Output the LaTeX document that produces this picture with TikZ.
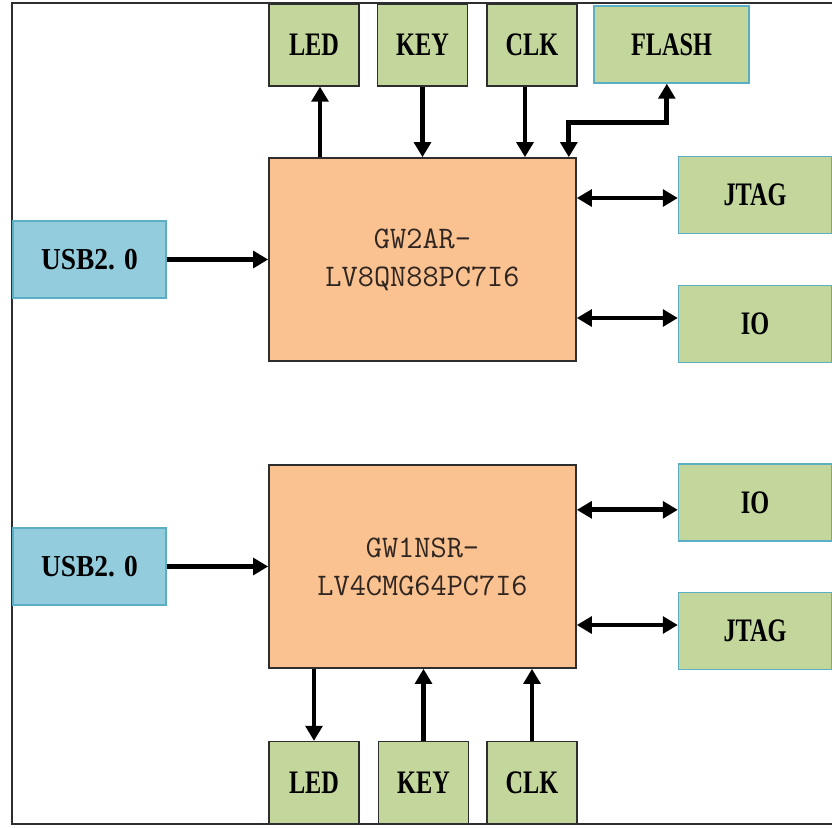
\documentclass[tikz,border=0pt]{standalone}
\usepackage{fontspec}
\usetikzlibrary{arrows.meta, positioning}
\newfontfamily\labelfont[FakeStretch=0.74]{Liberation Serif}
\newfontfamily\usbfont[FakeStretch=0.9]{Liberation Serif}
\definecolor{cgreen}{HTML}{C3D69B}
\definecolor{cpeach}{HTML}{FAC191}
\definecolor{cblue}{HTML}{93CDDD}
\definecolor{cteal}{HTML}{5BAFC4}
\definecolor{cdark}{HTML}{2E2E2E}
\definecolor{ctext}{HTML}{2F2621}
\tikzset{
  every picture/.style={line width=1.2pt},
  part/.style={draw=cdark, fill=cgreen, line width=1.4pt, inner sep=0pt,
    minimum width=2.7cm, minimum height=2.45cm,
    font=\labelfont\bfseries\fontsize{28}{30}\selectfont},
  port/.style={part, draw=cteal, minimum width=4.58cm, minimum height=2.3cm},
  usb/.style={port, fill=cblue, font=\usbfont\bfseries\fontsize{26}{28}\selectfont},
  chip/.style={draw=cdark, fill=cpeach, line width=1.4pt, align=center,
    minimum width=9.21cm, minimum height=6.09cm, text=ctext,
    font=\ttfamily\fontsize{26.8}{32.5}\selectfont},
  arrow/.style={-{Triangle[length=0.45cm, width=0.5cm]}, line width=4.2pt},
  biarrow/.style={arrow, {Triangle[length=0.45cm, width=0.5cm]}-{Triangle[length=0.45cm, width=0.5cm]}},
}

\begin{document}
\begin{tikzpicture}[x=0.03cm, y=-0.03cm]
  \useasboundingbox (0,0) rectangle (832,827);
  % outer frame
  \draw[cdark, line width=1.5pt] (12,3) rectangle (845,824);
  % first board
  \node[chip] (chipA) at (422.5,259.5) {GW2AR-\\LV8QN88PC7I6};
  \node[part] (ledA) at (314,45) {LED};
  \node[part] (keyA) at (422.5,45) {KEY};
  \node[part] (clkA) at (532,45) {CLK};
  \node[port, minimum width=4.65cm] (flash) at (671.5,44.5) {FLASH};
  \node[usb] (usbA) at (89.5,259.5) {USB2. 0};
  \node[port] (jtagA) at (755,195) {JTAG};
  \node[port] (ioA) at (755,324) {IO};
  \draw[arrow] ([xshift=0.18cm]chipA.north -| ledA.south) -- ([xshift=0.18cm]ledA.south);
  \draw[arrow] (keyA.south) -- (keyA.south |- chipA.north);
  \draw[arrow] ([xshift=-0.21cm]clkA.south) -- ([xshift=-0.21cm]clkA.south |- chipA.north);
  \draw[biarrow] ([xshift=-0.24cm]chipA.north east) |- ([xshift=-0.14cm, yshift=-1.17cm]flash.south)
    -- ([xshift=-0.14cm]flash.south);
  \draw[arrow] (usbA.east) -- (chipA.west);
  \draw[biarrow] ([yshift=-0.09cm]chipA.east |- jtagA.west) -- ([yshift=-0.09cm]jtagA.west);
  \draw[biarrow] ([yshift=0.18cm]chipA.east |- ioA.west) -- ([yshift=0.18cm]ioA.west);
  % second board
  \node[chip] (chipB) at (422.5,566.5) {GW1NSR-\\LV4CMG64PC7I6};
  \node[usb] (usbB) at (89.5,566.5) {USB2. 0};
  \node[port] (ioB) at (755,502.5) {IO};
  \node[port] (jtagB) at (755,631) {JTAG};
  \node[part] (ledB) at (314,782.5) {LED};
  \node[part] (keyB) at (423.5,782.5) {KEY};
  \node[part] (clkB) at (532,782.5) {CLK};
  \draw[arrow] (usbB.east) -- (chipB.west);
  \draw[biarrow] ([yshift=-0.22cm]chipB.east |- ioB.west) -- ([yshift=-0.22cm]ioB.west);
  \draw[biarrow] ([yshift=0.18cm]chipB.east |- jtagB.west) -- ([yshift=0.18cm]jtagB.west);
  \draw[arrow] (ledB.north |- chipB.south) -- (ledB.north);
  \draw[arrow] (keyB.north) -- (keyB.north |- chipB.south);
  \draw[arrow] (clkB.north) -- (clkB.north |- chipB.south);
\end{tikzpicture}
\end{document}
